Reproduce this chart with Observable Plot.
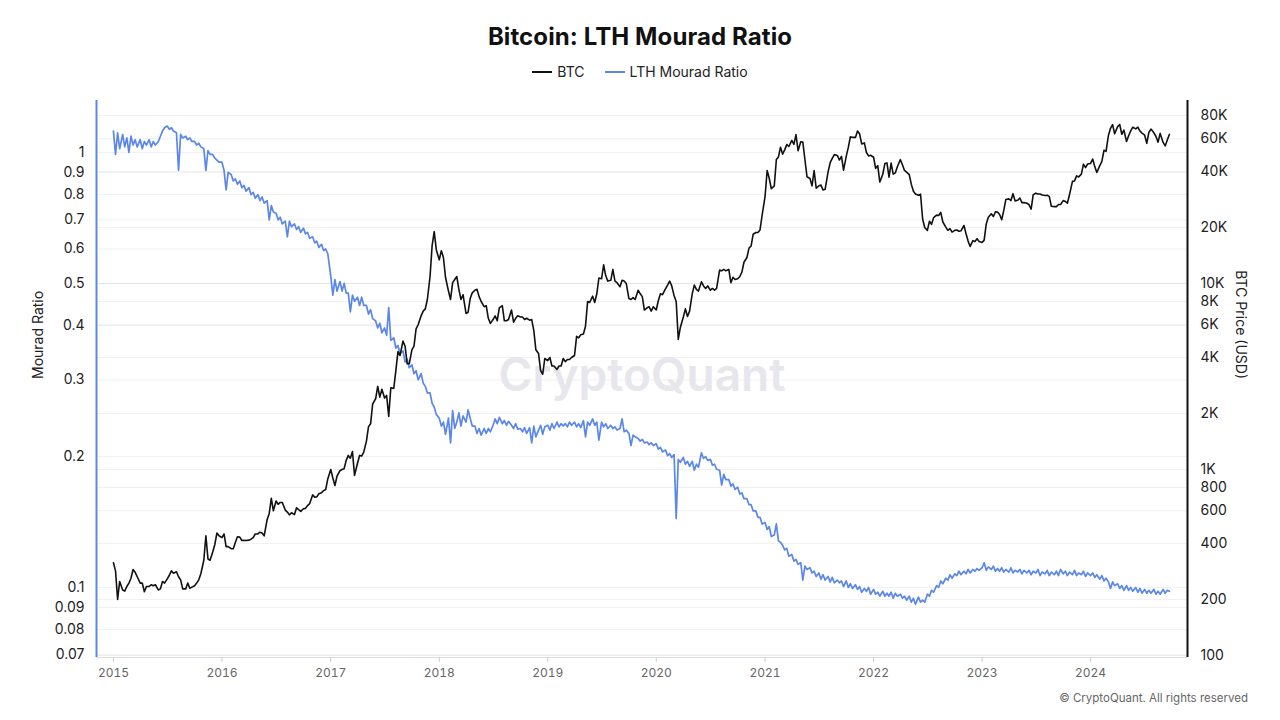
<!DOCTYPE html>
<html><head><meta charset="utf-8">
<script src="https://cdn.jsdelivr.net/npm/d3@7"></script>
<script src="https://cdn.jsdelivr.net/npm/@observablehq/plot@0.6"></script>
<style>
body{margin:0;background:#fff;font-family:Inter,"Noto Sans",sans-serif;}
#wrap{position:relative;width:1280px;height:720px;overflow:hidden;}
#title{position:absolute;top:25px;left:0;width:1280px;text-align:center;font-size:24px;line-height:24px;font-weight:700;color:#111;letter-spacing:0.1px;}
#legend{position:absolute;top:65px;left:0;width:1280px;display:flex;justify-content:center;gap:20px;font-size:14px;line-height:14px;color:#222;}
#legend span{display:inline-flex;align-items:center;}
#legend i{display:inline-block;width:20px;height:2px;margin-right:5px;}
#chart{position:absolute;top:90px;left:0;}
#caption{position:absolute;top:693px;right:32px;font-size:11.5px;line-height:11px;color:#666;}
</style></head>
<body>
<div id="wrap">
  <div id="title">Bitcoin: LTH Mourad Ratio</div>
  <div id="legend"><span><i style="background:#111"></i>BTC</span><span><i style="background:#5b87e8"></i>LTH Mourad Ratio</span></div>
  <div id="chart"></div>
  <div id="caption">© CryptoQuant. All rights reserved</div>
</div>
<script>
// ---- data: weekly samples (days 1, 8, 15, 22 of each month) ----
const weekDays = [1, 8, 15, 22];
const years = [2015,2016,2017,2018,2019,2020,2021,2022,2023,2024];

// BTC price (USD)
const btc2015 = [315,285,200,250, 225,222,235,245, 260,290,280,265, 245,245,220,235, 235,240,237,240, 225,228,250,245, 258,270,285,277, 282,265,255,228, 228,245,230,233, 237,245,255,275, 325,440,330,325, 360,395,455,440];
const btc2016 = [430,450,385,385, 375,375,405,435, 433,415,416,415, 417,422,430,450, 450,460,455,440, 537,580,700,600, 677,650,665,665, 605,590,570,585, 572,622,608,595, 615,618,640,655, 730,710,712,740, 750,770,780,890];
const btc2017 = [1000,900,820,920, 985,1000,1010,1120, 1190,1150,1250,930, 1080,1190,1180,1240, 1420,1700,1760,2250, 2400,2800,2450,2700, 2420,2500,1930,2750, 2730,3400,4300,4100, 4900,4600,3700,3700, 4400,4600,5700,6000, 6700,7100,7300,8200, 10900,16000,19000,15200];
const btc2018 = [13400,15000,13800,10800, 9100,8200,10100,10500, 10900,9300,8200,8700, 6900,7000,8300,8900, 9200,9300,8500,8000, 7500,7600,6500,6100, 6400,6700,6300,7400, 7600,6300,6300,6400, 7200,6200,6500,6700, 6600,6600,6400,6500, 6350,6400,5600,4400, 4200,3400,3250,3950];
const btc2019 = [3850,4000,3600,3600, 3450,3600,3600,3950, 3800,3900,3900,4000, 4100,5200,5100,5300, 5350,5900,8000,7900, 8550,7900,8800,10700, 10600,12600,11000,10300, 10400,11900,10300,10100, 9600,10400,10300,10000, 8300,8200,8400,8200, 9200,8800,8500,7200, 7400,7500,7100,7500];
const btc2020 = [7200,8100,8800,8700, 9350,9800,10300,9700, 8600,8000,5000,5800, 6600,7300,6650,7100, 8800,9800,9300,9100, 10200,9700,9400,9700, 9200,9400,9200,9400, 11800,11700,11900,11700, 11900,10100,10800,10500, 10600,10900,11500,13000, 13800,15500,15900,18400, 18800,18800,19400,23200];
const btc2021 = [29400,40500,36800,32300, 33500,46400,47900,54000, 49600,52300,55800,54500, 58800,56000,63100,51700, 57800,57600,46400,37500, 36700,33500,40500,32500, 33500,33800,31800,32100, 39800,44600,47000,49300, 48800,46100,48200,40700, 48200,53900,61500,61000, 61000,66000,63600,56300, 57000,50600,48500,48900];
const btc2022 = [47700,41600,43000,35100, 38700,44100,44500,37300, 44400,38700,39300,42400, 46300,43500,40500,39700, 38500,34100,31300,30300, 29800,30200,22200,20000, 19300,21600,20800,22600, 23300,23200,24100,21400, 20100,19300,19700,18900, 19300,19400,19100,19200, 20500,18500,16900,15800, 17000,16800,17400,16800];
const btc2023 = [16600,17100,20900,22700, 23700,22900,24300,24200, 23500,22000,24700,28300, 28500,27900,30400,27800, 28000,28800,27200,27200, 27000,26500,25100,30000, 30600,30300,30300,29900, 29700,29800,29400,26000, 25900,25900,26600,26600, 27900,27600,27000,30000, 35400,35600,37900,37400, 38700,43800,42000,43900];
const btc2024 = [44200,46700,42500,39500, 43000,45300,52000,51300, 62500,68300,71500,63800, 69700,71600,63400,66800, 58000,62300,66200,69200, 67800,69300,66000,64300, 62700,56700,64800,67600, 64600,61700,57500,64100, 57300,54900,59000,63300];

// LTH Mourad Ratio
const ratio2015 = [1.12,0.99,1.11,1.02, 1.10,1.03,1.08,1.00, 1.09,1.04,1.07,1.03, 1.07,1.02,1.06,1.04, 1.07,1.03,1.06,1.04, 1.06,1.09,1.12,1.14, 1.15,1.13,1.14,1.12, 1.11,0.91,1.10,1.08, 1.09,1.07,1.08,1.06, 1.06,1.04,1.05,1.03, 1.02,0.91,1.01,0.99, 0.99,0.97,0.96,0.95];
const ratio2016 = [0.95,0.91,0.82,0.90, 0.89,0.86,0.87,0.845, 0.86,0.83,0.84,0.815, 0.83,0.80,0.81,0.785, 0.80,0.775,0.79,0.765, 0.775,0.70,0.755,0.73, 0.725,0.70,0.71,0.685, 0.695,0.64,0.695,0.675, 0.685,0.665,0.675,0.655, 0.67,0.65,0.655,0.635, 0.64,0.62,0.625,0.605, 0.615,0.595,0.60,0.585];
const ratio2017 = [0.52,0.47,0.51,0.48, 0.505,0.48,0.50,0.475, 0.475,0.43,0.47,0.455, 0.465,0.445,0.465,0.445, 0.445,0.425,0.435,0.415, 0.41,0.395,0.405,0.385, 0.395,0.38,0.44,0.37, 0.375,0.355,0.36,0.345, 0.35,0.33,0.335,0.32, 0.325,0.31,0.315,0.30, 0.31,0.295,0.29,0.28, 0.28,0.265,0.26,0.25];
const ratio2018 = [0.245,0.235,0.24,0.225, 0.245,0.215,0.255,0.232, 0.24,0.252,0.235,0.248, 0.24,0.256,0.245,0.235, 0.235,0.226,0.232,0.224, 0.232,0.226,0.232,0.228, 0.236,0.244,0.238,0.246, 0.238,0.242,0.236,0.241, 0.236,0.232,0.238,0.231, 0.232,0.228,0.233,0.226, 0.233,0.215,0.235,0.222, 0.23,0.236,0.225,0.234];
const ratio2019 = [0.236,0.230,0.238,0.232, 0.240,0.234,0.238,0.235, 0.238,0.234,0.240,0.236, 0.240,0.234,0.238,0.233, 0.242,0.222,0.240,0.236, 0.244,0.236,0.240,0.218, 0.240,0.234,0.238,0.232, 0.236,0.232,0.234,0.230, 0.232,0.244,0.228,0.230, 0.226,0.212,0.224,0.222, 0.220,0.217,0.219,0.215, 0.216,0.213,0.215,0.212];
const ratio2020 = [0.214,0.208,0.210,0.205, 0.207,0.201,0.203,0.199, 0.202,0.144,0.197,0.194, 0.199,0.192,0.195,0.190, 0.195,0.186,0.192,0.189, 0.204,0.198,0.200,0.196, 0.197,0.191,0.192,0.187, 0.186,0.172,0.182,0.177, 0.177,0.171,0.173,0.168, 0.170,0.164,0.165,0.160, 0.160,0.155,0.155,0.150, 0.150,0.145,0.145,0.140];
const ratio2021 = [0.141,0.136,0.138,0.131, 0.132,0.140,0.128,0.127, 0.125,0.122,0.123,0.118, 0.119,0.115,0.116,0.113, 0.114,0.104,0.112,0.110, 0.111,0.108,0.109,0.106, 0.108,0.1045,0.107,0.104, 0.106,0.103,0.1055,0.1025, 0.104,0.1025,0.1035,0.1005, 0.1035,0.100,0.102,0.0995, 0.1015,0.099,0.1005,0.0975, 0.0995,0.098,0.100,0.0965];
const ratio2022 = [0.099,0.0965,0.0975,0.0955, 0.098,0.0955,0.097,0.0955, 0.0975,0.0945,0.097,0.0955, 0.0965,0.0945,0.0955,0.0935, 0.0955,0.0925,0.0945,0.0915, 0.0950,0.0925,0.0935,0.0925, 0.0965,0.0955,0.0985,0.0975, 0.1010,0.1000,0.1035,0.1020, 0.1050,0.1040,0.1070,0.1050, 0.1075,0.1065,0.1090,0.1070, 0.1090,0.1075,0.1100,0.1080, 0.1100,0.1090,0.1105,0.1095];
const ratio2023 = [0.1110,0.1140,0.1095,0.1115, 0.1100,0.1120,0.1090,0.1105, 0.1090,0.1110,0.1085,0.1100, 0.1085,0.1110,0.1080,0.1095, 0.1085,0.1100,0.1075,0.1095, 0.1080,0.1095,0.1070,0.1090, 0.1080,0.1100,0.1065,0.1085, 0.1075,0.1095,0.1065,0.1085, 0.1070,0.1090,0.1065,0.1100, 0.1075,0.1090,0.1065,0.1085, 0.1070,0.1095,0.1065,0.1080, 0.1070,0.1090,0.1060,0.1080];
const ratio2024 = [0.1065,0.1080,0.1055,0.1070, 0.1045,0.1065,0.1035,0.1050, 0.1030,0.0995,0.1030,0.1010, 0.1020,0.0995,0.1010,0.0985, 0.1010,0.0985,0.1000,0.0980, 0.1000,0.0975,0.0995,0.0970, 0.0990,0.0970,0.0985,0.0970, 0.0990,0.0965,0.0980,0.0965, 0.0990,0.0970,0.0985,0.0980];

const ratioTicks = [0.07,0.08,0.09,0.1,0.2,0.3,0.4,0.5,0.6,0.7,0.8,0.9,1];
const priceTicks = [100,200,400,600,800,1000,2000,4000,6000,8000,10000,20000,40000,60000,80000];

// ---- layout / axis alignment ----
const blue = "#5b87e8";
const xDomain = [new Date("2014-11-05"), new Date("2024-11-22")];
const yDomain = [0.06903, 1.3167];
const priceToRatio = p => Math.pow(10, (186 * Math.log10(p) - 875) / 435);
const fmtPrice = p => p >= 1000 ? (p / 1000) + "K" : String(p);

function weekly(arrays) {
  const out = [];
  arrays.forEach((arr, yi) => arr.forEach((v, i) => {
    out.push({date: new Date(Date.UTC(years[yi], Math.floor(i / 4), weekDays[i % 4])), value: v});
  }));
  return out;
}
const btcData = weekly([btc2015,btc2016,btc2017,btc2018,btc2019,btc2020,btc2021,btc2022,btc2023,btc2024])
  .map(d => ({date: d.date, v: priceToRatio(d.value)}));
const ratioData = weekly([ratio2015,ratio2016,ratio2017,ratio2018,ratio2019,ratio2020,ratio2021,ratio2022,ratio2023,ratio2024])
  .map(d => ({date: d.date, v: d.value}));

const chart = Plot.plot({
  width: 1280, height: 630,
  marginTop: 10, marginBottom: 63, marginLeft: 96, marginRight: 93,
  style: {fontFamily: "Inter, 'Noto Sans', sans-serif", fontSize: "14px", color: "#222", background: "transparent"},
  x: {type: "utc", domain: xDomain},
  y: {type: "log", domain: yDomain, axis: null},
  marks: [
    Plot.gridY(ratioTicks, {stroke: "#000", strokeOpacity: 0.06}),
    Plot.gridY(priceTicks.map(priceToRatio), {stroke: "#000", strokeOpacity: 0.06}),
    Plot.ruleY([yDomain[0]], {stroke: "#dcdce0"}),
    Plot.text(["CryptoQuant"], {frameAnchor: "middle", fontSize: 46, fontWeight: 600, fill: "#e6e6ec", dy: -3}),
    Plot.line(ratioData, {x: "date", y: "v", stroke: blue, strokeWidth: 1.7}),
    Plot.line(btcData, {x: "date", y: "v", stroke: "#111", strokeWidth: 1.6}),
    Plot.axisX({ticks: d3.utcYear.every(1), tickFormat: d3.utcFormat("%Y"), tickSize: 5, tickPadding: 6, fontSize: 12, fill: "#666", stroke: "#ccc", label: null}),
    Plot.text(ratioTicks, {y: d => d, text: d => String(d), frameAnchor: "left", textAnchor: "end", dx: -12, fontSize: 14, fill: "#222"}),
    Plot.text(priceTicks, {y: d => priceToRatio(d), text: d => fmtPrice(d), frameAnchor: "right", textAnchor: "start", dx: 13, fontSize: 14, fill: "#222"}),
    Plot.ruleX([xDomain[0]], {stroke: blue, strokeWidth: 2}),
    Plot.ruleX([xDomain[1]], {stroke: "#111", strokeWidth: 2}),
    Plot.text(["Mourad Ratio"], {frameAnchor: "left", rotate: -90, dx: -58, fontSize: 14, fill: "#222"}),
    Plot.text(["BTC Price (USD)"], {frameAnchor: "right", rotate: 90, dx: 53, fontSize: 14, fill: "#222"})
  ]
});
document.getElementById("chart").appendChild(chart);
</script>
</body></html>
